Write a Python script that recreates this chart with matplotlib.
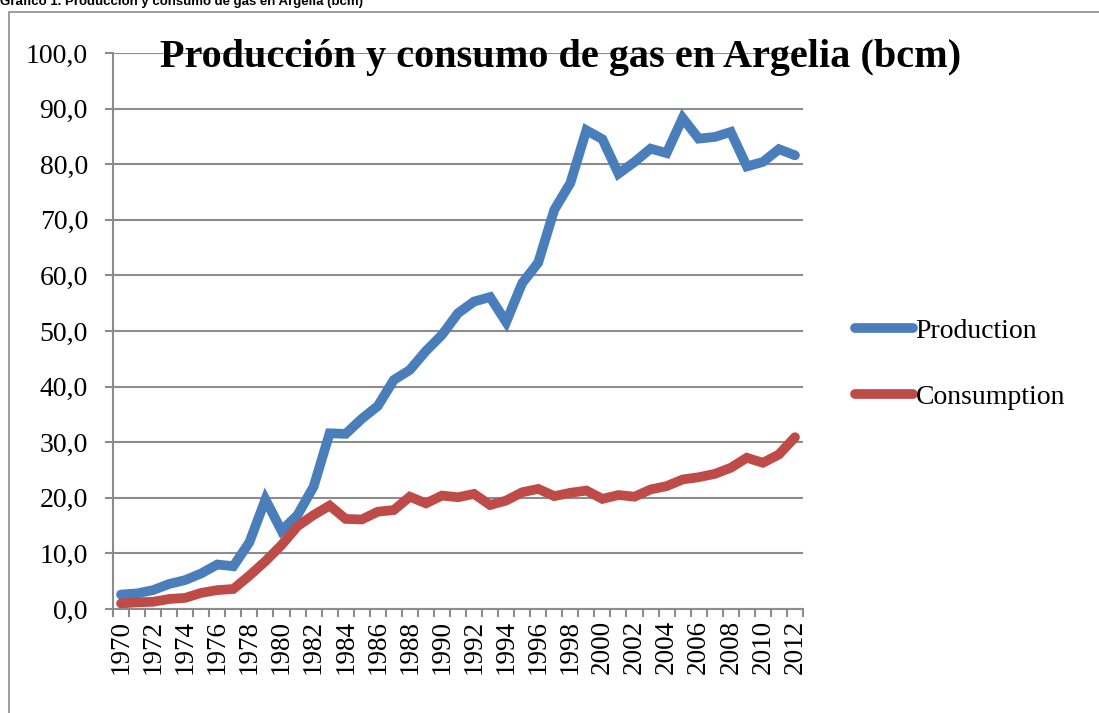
import numpy as np
import matplotlib
matplotlib.use("Agg")
import matplotlib.pyplot as plt
from matplotlib.lines import Line2D

# Data (bcm)
years = list(range(1970, 2013))
production = [2.6, 2.8, 3.4, 4.5, 5.2, 6.4, 8.0, 7.7, 12.0, 19.7,
              14.1, 16.9, 22.0, 31.6, 31.5, 34.2, 36.5, 41.2, 43.0, 46.4,
              49.3, 53.2, 55.3, 56.1, 51.6, 58.6, 62.3, 71.8, 76.6, 86.1,
              84.5, 78.3, 80.4, 82.8, 82.0, 88.3, 84.6, 84.9, 85.8, 79.6,
              80.4, 82.7, 81.6]
consumption = [1.0, 1.2, 1.3, 1.8, 2.0, 2.9, 3.4, 3.6, 6.0, 8.6,
               11.5, 14.9, 16.9, 18.6, 16.2, 16.1, 17.5, 17.8, 20.2, 19.0,
               20.4, 20.1, 20.7, 18.7, 19.5, 21.0, 21.6, 20.3, 20.9, 21.3,
               19.8, 20.5, 20.2, 21.5, 22.1, 23.3, 23.7, 24.3, 25.4, 27.2,
               26.3, 27.8, 30.9]
yticks = [0, 10, 20, 30, 40, 50, 60, 70, 80, 90, 100]

W, H = 1099, 713
serif = ["Liberation Serif", "DejaVu Serif"]
blue = "#4A7EBB"
red = "#BE4B48"
grid = "#8C8C8C"

fig = plt.figure(figsize=(W / 100, H / 100), dpi=100)
ax = fig.add_axes([113 / W, 1 - 609 / H, 690 / W, 556 / H])

x = np.arange(len(years))
ax.plot(x, production, color=blue, lw=7, solid_capstyle="round",
        solid_joinstyle="miter", label="Production")
ax.plot(x, consumption, color=red, lw=7, solid_capstyle="round",
        solid_joinstyle="miter", label="Consumption")

ax.set_xlim(-0.5, len(years) - 0.5)
ax.set_ylim(0, 100)

# y axis
ax.set_yticks(yticks)
ax.set_yticklabels([f"{v:.1f}".replace(".", ",") for v in yticks],
                   fontfamily=serif, fontsize=20)
ax.yaxis.grid(True, color=grid, lw=1.5)
ax.set_axisbelow(True)
ax.tick_params(axis="y", length=6, width=1.5, color=grid, pad=12)

# x axis: ticks between categories, labels every second year
ax.set_xticks(x[::2])
ax.set_xticklabels([str(y) for y in years[::2]], rotation=90,
                   fontfamily=serif, fontsize=19.5)
ax.set_xticks(np.arange(-0.5, len(years)), minor=True)
ax.tick_params(axis="x", which="major", length=0, pad=8)
ax.tick_params(axis="x", which="minor", length=5.5, width=1.5, color=grid)

for side in ("top", "right"):
    ax.spines[side].set_visible(False)
for side in ("left", "bottom"):
    ax.spines[side].set_color(grid)
    ax.spines[side].set_linewidth(1.5)

# title
fig.text(0.51, 1 - 58 / H, "Producción y consumo de gas en Argelia (bcm)",
         ha="center", va="center", fontfamily=serif, fontweight="bold",
         fontsize=29)

# legend
handles = [Line2D([], [], color=blue, lw=7, solid_capstyle="round"),
           Line2D([], [], color=red, lw=7, solid_capstyle="round")]
fig.legend(handles, ["Production", "Consumption"], loc="center left",
           bbox_to_anchor=(855 / W, 1 - 364 / H), frameon=False,
           prop={"family": serif, "size": 20}, handlelength=2.1,
           handletextpad=0.08, labelspacing=1.45, borderpad=0,
           borderaxespad=0)

# chart border and cut-off caption from the page
fig.add_artist(Line2D([9 / W, 9 / W, 1.0], [0.0, 1 - 12 / H, 1 - 12 / H],
                      transform=fig.transFigure, color="#8C8C8C", lw=1.2))
fig.text(0.0, 1 - 5 / H, "Gráfico 1. Producción y consumo de gas en Argelia (bcm)",
         ha="left", va="baseline", fontfamily=["Liberation Sans", "DejaVu Sans"],
         fontweight="bold", fontsize=9.5)

fig.savefig("out.png", dpi=100)
